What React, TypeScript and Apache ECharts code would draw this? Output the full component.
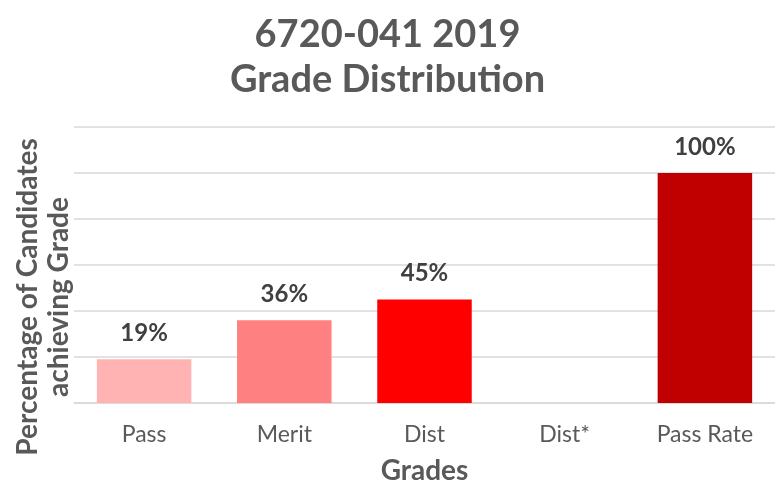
import React, { useEffect, useRef } from "react";
import * as echarts from "echarts";

const categories = ["Pass", "Merit", "Dist", "Dist*", "Pass Rate"];
const values = [19, 36, 45, null, 100];
const barColors = ["#FFB3B3", "#FF8080", "#FF0000", "#FF0000", "#C00000"];
const titleText = "6720-041 2019\nGrade Distribution";
const yAxisTitle = "Percentage of Candidates\nachieving Grade";
const xAxisTitle = "Grades";

export default function App() {
  const ref = useRef<HTMLDivElement>(null);
  useEffect(() => {
    const chart = echarts.init(ref.current!, undefined, { renderer: "svg" });
    const font = "Lato, 'Open Sans', sans-serif";
    chart.setOption({
      animation: false,
      textStyle: { fontFamily: font },
      title: {
        text: titleText,
        left: "center",
        top: 4,
        textStyle: {
          fontFamily: font,
          fontSize: 38,
          lineHeight: 45,
          fontWeight: "bold",
          color: "#595959",
        },
      },
      grid: { left: 74, width: 712, top: 127, height: 279 },
      xAxis: {
        type: "category",
        data: categories,
        name: xAxisTitle,
        nameLocation: "middle",
        nameGap: 52,
        nameTextStyle: { fontFamily: font, fontSize: 28, fontWeight: "bold", color: "#595959" },
        axisLine: { show: true, lineStyle: { color: "#D9D9D9", width: 1.5 } },
        axisTick: { show: false },
        axisLabel: { fontFamily: font, fontSize: 23, color: "#595959", margin: 18 },
      },
      yAxis: {
        type: "value",
        min: 0,
        max: 120,
        interval: 20,
        axisLabel: { show: false },
        axisLine: { show: false },
        axisTick: { show: false },
        splitLine: { lineStyle: { color: "#D9D9D9", width: 1.5 } },
      },
      graphic: [
        {
          type: "text",
          x: 41,
          y: 297,
          rotation: Math.PI / 2,
          style: {
            text: yAxisTitle,
            fontFamily: font,
            fontSize: 28,
            lineHeight: 31,
            fontWeight: "bold",
            fill: "#595959",
            align: "center",
            verticalAlign: "middle",
          },
        },
      ],
      series: [
        {
          type: "bar",
          data: values.map((v, i) => ({ value: v, itemStyle: { color: barColors[i] } })),
          barCategoryGap: "32.6%",
          label: {
            show: true,
            position: "top",
            distance: 16,
            formatter: (p: any) => (p.value == null ? "" : p.value + "%"),
            fontFamily: font,
            fontSize: 24,
            fontWeight: "bold",
            color: "#404040",
          },
        },
      ],
    });
    return () => chart.dispose();
  }, []);
  return (
    <div
      ref={ref}
      style={{ position: "fixed", left: 0, top: 0, width: 775, height: 488 }}
    />
  );
}
